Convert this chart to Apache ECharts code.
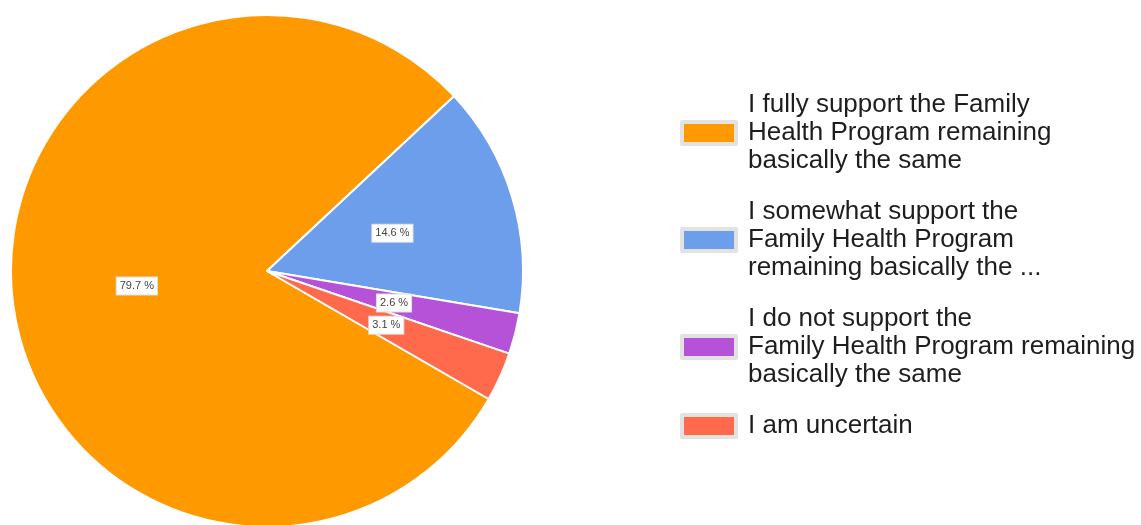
<!DOCTYPE html>
<html>
<head>
<meta charset="utf-8">
<script src="https://cdn.jsdelivr.net/npm/echarts@6/dist/echarts.min.js"></script>
<style>
  html, body { margin: 0; padding: 0; background: #fff; }
  #chart { width: 1141px; height: 525px; }
</style>
</head>
<body>
<div id="chart"></div>
<script>
// Survey answers (legend text, wrapped as shown) and their shares in percent
const categories = [
  'I fully support the Family\nHealth Program remaining\nbasically the same',
  'I somewhat support the\nFamily Health Program\nremaining basically the ...',
  'I do not support the\nFamily Health Program remaining\nbasically the same',
  'I am uncertain'
];
const shares = [79.7, 14.6, 2.6, 3.1];
const sliceColors = ['#ff9900', '#6d9eeb', '#b552d8', '#ff6a4d'];

const chart = echarts.init(document.getElementById('chart'), null, { renderer: 'canvas' });

chart.setOption({
  animation: false,
  color: sliceColors,
  legend: {
    orient: 'vertical',
    left: 675,
    top: 86,
    itemGap: 23,
    itemWidth: 54,
    itemHeight: 22,
    icon: 'rect',
    selectedMode: false,
    itemStyle: { borderColor: '#e2e2e2', borderWidth: 4 },
    textStyle: {
      fontFamily: 'Liberation Sans, Arial, sans-serif',
      fontSize: 26,
      lineHeight: 28,
      color: '#1e1e1e',
      padding: [0, 0, 0, 7]
    },
    data: categories
  },
  series: [{
    type: 'pie',
    center: [267, 271],
    radius: 256,
    startAngle: 330,
    clockwise: true,
    avoidLabelOverlap: false,
    itemStyle: { borderColor: '#fff', borderWidth: 2 },
    label: {
      show: true,
      position: 'inside',
      formatter: '{c} %',
      fontFamily: 'Liberation Sans, Arial, sans-serif',
      fontSize: 11,
      color: '#444',
      backgroundColor: '#fff',
      borderColor: '#ddd',
      borderWidth: 1,
      padding: [3, 3]
    },
    labelLine: { show: false },
    emphasis: { disabled: true },
    data: categories.map((name, i) => ({ name: name, value: shares[i] }))
  }]
});
</script>
</body>
</html>
